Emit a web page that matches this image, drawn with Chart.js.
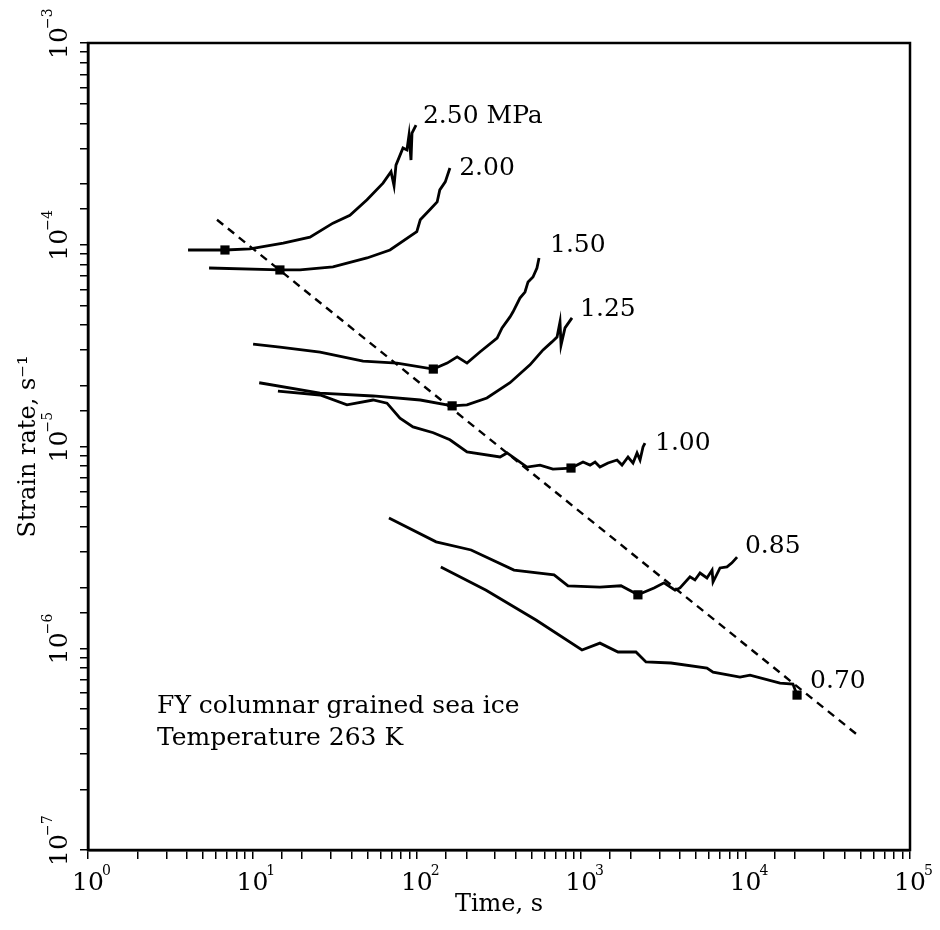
<!DOCTYPE html>
<html>
<head>
<meta charset="utf-8">
<script src="https://cdn.jsdelivr.net/npm/chart.js@4.4.1/dist/chart.umd.min.js"></script>
<style>
  body { margin: 0; background: #fff; }
  #graph { display: block; }
</style>
</head>
<body>
<canvas id="graph" width="940" height="930"></canvas>
<script>
// creep curves: time in s, strain rate in 1/s
const t250 = [4.06, 6.81, 9.67, 15.4, 22.4, 30.9, 39.2, 49.8, 62.3, 69.7, 72.7, 74.7, 82.4, 87.1, 89.7, 92.2, 93.5, 98.9];
const e250 = [9.42e-5, 9.42e-5, 9.53e-5, 1.02e-4, 1.09e-4, 1.28e-4, 1.40e-4, 1.67e-4, 2.02e-4, 2.30e-4, 1.96e-4, 2.48e-4, 3.02e-4, 2.95e-4, 3.50e-4, 2.63e-4, 3.58e-4, 3.92e-4];

const t200 = [5.45, 14.7, 19.5, 30.9, 49.8, 68.7, 100, 105, 120, 133, 138, 149, 159];
const e200 = [7.67e-5, 7.50e-5, 7.50e-5, 7.76e-5, 8.60e-5, 9.42e-5, 1.16e-4, 1.33e-4, 1.49e-4, 1.63e-4, 1.87e-4, 2.05e-4, 2.40e-4];

const t150 = [10.1, 14.7, 25.8, 47.1, 75.8, 126, 153, 176, 202, 242, 308, 330, 369, 385, 424, 455, 475, 509, 538, 554];
const e150 = [3.22e-5, 3.11e-5, 2.94e-5, 2.65e-5, 2.59e-5, 2.42e-5, 2.59e-5, 2.78e-5, 2.59e-5, 2.94e-5, 3.45e-5, 3.87e-5, 4.39e-5, 4.65e-5, 5.44e-5, 5.83e-5, 6.54e-5, 6.92e-5, 7.67e-5, 8.60e-5];

const t125 = [11.0, 25.8, 54.2, 105, 164, 202, 267, 369, 488, 538, 586, 664, 713, 743, 754, 797, 879];
const e125 = [2.07e-5, 1.84e-5, 1.78e-5, 1.70e-5, 1.59e-5, 1.61e-5, 1.74e-5, 2.07e-5, 2.54e-5, 2.78e-5, 3.01e-5, 3.30e-5, 3.49e-5, 4.14e-5, 3.18e-5, 3.87e-5, 4.34e-5];

const t100 = [14.3, 25.8, 37.6, 54.2, 65.9, 79.0, 94.8, 126, 159, 202, 321, 354, 468, 562, 673, 867, 1026, 1132, 1214, 1300, 1456, 1652, 1771, 1927, 2066, 2186, 2280, 2377, 2443];
const e100 = [1.88e-5, 1.80e-5, 1.61e-5, 1.70e-5, 1.64e-5, 1.38e-5, 1.25e-5, 1.17e-5, 1.08e-5, 9.40e-6, 8.87e-6, 9.29e-6, 7.91e-6, 8.09e-6, 7.73e-6, 7.82e-6, 8.38e-6, 8.09e-6, 8.38e-6, 7.91e-6, 8.28e-6, 8.57e-6, 8.09e-6, 8.87e-6, 8.28e-6, 9.29e-6, 8.57e-6, 9.95e-6, 1.04e-5];

const t085 = [67.7, 131, 214, 390, 684, 831, 1300, 1746, 2213, 2773, 3190, 3724, 3990, 4589, 4920, 5282, 5821, 6251, 6339, 6988, 7707, 8260, 8873];
const e085 = [4.42e-6, 3.37e-6, 3.07e-6, 2.44e-6, 2.31e-6, 2.04e-6, 2.01e-6, 2.04e-6, 1.84e-6, 1.99e-6, 2.11e-6, 1.94e-6, 1.99e-6, 2.26e-6, 2.18e-6, 2.36e-6, 2.23e-6, 2.44e-6, 2.13e-6, 2.50e-6, 2.53e-6, 2.65e-6, 2.83e-6];

const t070 = [140, 264, 531, 1011, 1300, 1675, 2153, 2477, 3517, 5821, 6339, 9247, 10640, 16200, 19400, 20560];
const e070 = [2.53e-6, 1.94e-6, 1.38e-6, 9.80e-7, 1.06e-6, 9.58e-7, 9.58e-7, 8.55e-7, 8.45e-7, 7.98e-7, 7.62e-7, 7.19e-7, 7.36e-7, 6.72e-7, 6.65e-7, 5.86e-7];

// minimum strain rate points (filled squares)
const minT = [6.81, 14.7, 126, 164, 867, 2213, 20560];
const minE = [9.42e-5, 7.50e-5, 2.42e-5, 1.59e-5, 7.82e-6, 1.84e-6, 5.86e-7];

// dashed line through the minima
const fitT = [6.09, 49700];
const fitE = [1.33e-4, 3.63e-7];

// stress labels at the end of each curve
const stressLabels = ['2.50 MPa', '2.00', '1.50', '1.25', '1.00', '0.85', '0.70'];
const labelT = [109, 181, 646, 984, 2812, 9910, 24660];
const labelE = [4.30e-4, 2.40e-4, 9.97e-5, 4.75e-5, 1.04e-5, 3.18e-6, 6.81e-7];

const noteLines = ['FY columnar grained sea ice', 'Temperature 263 K'];
const noteT = [2.63, 2.63];
const noteE = [5.12e-7, 3.59e-7];

// decade ticks that get a "10^n" label
const xExponents = [0, 1, 2, 3, 4, 5];
const yExponents = [-7, -6, -5, -4, -3];

const serif = '"DejaVu Serif", "Liberation Serif", serif';

function pts(ts, es) {
    return ts.map((t, i) => ({ x: t, y: es[i] }));
}

function curve(ts, es) {
    return {
        data: pts(ts, es),
        showLine: true,
        borderColor: '#000',
        borderWidth: 2.8,
        pointRadius: 0,
        tension: 0
    };
}

// box, decade labels with exponents, and the text annotations
const drawExtras = {
    id: 'drawExtras',
    afterDatasetsDraw(chart) {
        const ctx = chart.ctx;
        const xs = chart.scales.x;
        const ys = chart.scales.y;
        const a = chart.chartArea;
        ctx.save();
        ctx.strokeStyle = '#000';
        ctx.lineWidth = 2.5;
        ctx.strokeRect(a.left, a.top, a.right - a.left, a.bottom - a.top);

        ctx.fillStyle = '#000';
        ctx.textBaseline = 'alphabetic';

        // x axis: 10 with small raised exponent
        for (let p of xExponents) {
            const px = xs.getPixelForValue(Math.pow(10, p));
            ctx.font = '25px ' + serif;
            ctx.textAlign = 'center';
            ctx.fillText('10', px, a.bottom + 40);
            const w = ctx.measureText('10').width;
            ctx.font = '14px ' + serif;
            ctx.textAlign = 'left';
            ctx.fillText(String(p), px + w / 2 - 2, a.bottom + 25);
        }

        // y axis: rotated, reading bottom to top
        for (let p of yExponents) {
            const py = ys.getPixelForValue(Math.pow(10, p));
            ctx.save();
            ctx.translate(a.left - 21, py);
            ctx.rotate(-Math.PI / 2);
            ctx.font = '25px ' + serif;
            ctx.textAlign = 'center';
            ctx.fillText('10', 0, 0);
            const w = ctx.measureText('10').width;
            ctx.font = '14px ' + serif;
            ctx.textAlign = 'left';
            ctx.fillText('\u2212' + Math.abs(p), w / 2 - 2, -15);
            ctx.restore();
        }

        // stress labels
        ctx.font = '25px ' + serif;
        ctx.textAlign = 'left';
        ctx.textBaseline = 'middle';
        stressLabels.forEach((txt, i) => {
            ctx.fillText(txt, xs.getPixelForValue(labelT[i]), ys.getPixelForValue(labelE[i]));
        });
        noteLines.forEach((txt, i) => {
            ctx.fillText(txt, xs.getPixelForValue(noteT[i]), ys.getPixelForValue(noteE[i]));
        });
        ctx.restore();
    }
};

let canvas = document.getElementById('graph').getContext('2d');

let chart = new Chart(canvas, {
    type: 'scatter',
    data: {
        datasets: [
            {
                data: pts(minT, minE),
                pointStyle: 'rect',
                pointRadius: 6.5,
                backgroundColor: '#000',
                borderWidth: 0,
                showLine: false
            },
            {
                data: pts(fitT, fitE),
                showLine: true,
                borderColor: '#000',
                borderWidth: 2.4,
                borderDash: [8, 6],
                pointRadius: 0
            },
            curve(t250, e250),
            curve(t200, e200),
            curve(t150, e150),
            curve(t125, e125),
            curve(t100, e100),
            curve(t085, e085),
            curve(t070, e070)
        ]
    },
    options: {
        responsive: false,
        animation: false,
        layout: { padding: { left: 0, top: 43, right: 30, bottom: 0 } },
        plugins: {
            legend: { display: false },
            tooltip: { enabled: false }
        },
        scales: {
            x: {
                type: 'logarithmic',
                position: 'bottom',
                min: 1,
                max: 1e5,
                ticks: { autoSkip: false, callback: () => '' },
                grid: { drawOnChartArea: false, drawTicks: true, tickLength: 9, color: '#000', lineWidth: 1.5 },
                border: { display: true, color: '#000', width: 2.5 },
                title: {
                    display: true,
                    text: 'Time, s',
                    color: '#000',
                    font: { family: serif, size: 24 },
                    padding: { top: 0, bottom: 11 }
                },
                afterFit: (s) => { s.height = 80; }
            },
            y: {
                type: 'logarithmic',
                position: 'left',
                min: 1e-7,
                max: 1e-3,
                ticks: { autoSkip: false, callback: () => '' },
                grid: { drawOnChartArea: false, drawTicks: true, tickLength: 8, color: '#000', lineWidth: 1.5 },
                border: { display: true, color: '#000', width: 2.5 },
                title: {
                    display: true,
                    text: 'Strain rate, s\u207B\u00B9',
                    color: '#000',
                    font: { family: serif, size: 24 },
                    padding: { top: 14, bottom: 0 }
                },
                afterFit: (s) => { s.width = 88; }
            }
        }
    },
    plugins: [drawExtras]
});
</script>
</body>
</html>
